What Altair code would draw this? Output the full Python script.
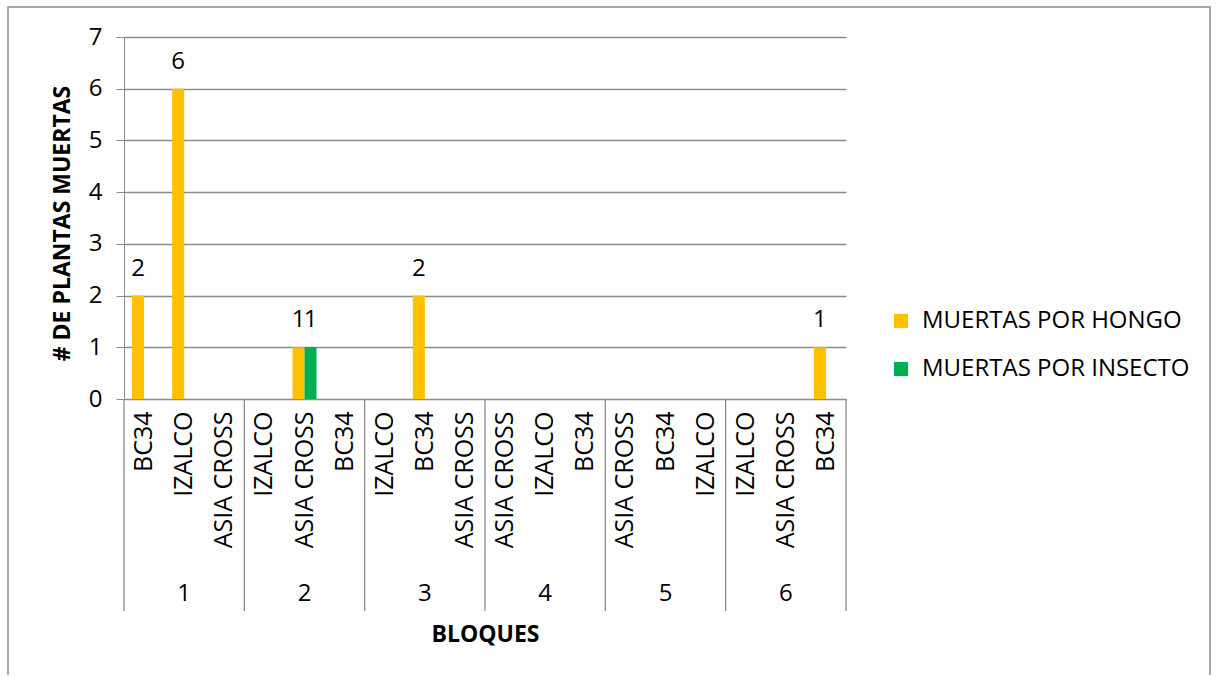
import altair as alt
import pandas as pd

# Six blocks, three varieties each (field order within every block)
blocks = ["1", "2", "3", "4", "5", "6"]
varieties = [
    ["BC34", "IZALCO", "ASIA CROSS"],
    ["IZALCO", "ASIA CROSS", "BC34"],
    ["IZALCO", "BC34", "ASIA CROSS"],
    ["ASIA CROSS", "IZALCO", "BC34"],
    ["ASIA CROSS", "BC34", "IZALCO"],
    ["IZALCO", "ASIA CROSS", "BC34"],
]
series = ["MUERTAS POR HONGO", "MUERTAS POR INSECTO"]
hongo = [2, 6, 0, 0, 1, 0, 0, 2, 0, 0, 0, 0, 0, 0, 0, 0, 0, 1]
insecto = [0, 0, 0, 0, 1, 0, 0, 0, 0, 0, 0, 0, 0, 0, 0, 0, 0, 0]
colors = ["#FFC000", "#00B050"]

keys = [f"{b}|{v}" for b, vs in zip(blocks, varieties) for v in vs]

rows = []
for i, k in enumerate(keys):
    rows.append({"cat": k, "serie": series[0], "valor": hongo[i]})
    rows.append({"cat": k, "serie": series[1], "valor": insecto[i]})
df = pd.DataFrame(rows)

starts = pd.DataFrame({"cat": [keys[3 * i] for i in range(len(blocks))]})
ends = pd.DataFrame({"cat": [keys[-1]]})
mids = pd.DataFrame({"cat": [keys[3 * i + 1] for i in range(len(blocks))], "bloque": blocks})

W, H = 722, 362
FONT = "Open Sans"
GRID = "#8c8c8c"

x_scale = alt.Scale(domain=keys, paddingInner=0, paddingOuter=0)
x_axis = alt.Axis(
    labelAngle=-90,
    labelExpr="split(datum.value, '|')[1]",
    labelFontSize=25,
    labelPadding=12,
    labelColor="#000",
    ticks=False,
    domainColor=GRID,
    title="BLOQUES",
    titleFontSize=23,
    titleFontWeight="bold",
    titleY=235,
    titleBaseline="middle",
    titleColor="#000",
)
y_scale = alt.Scale(domain=[0, 7], nice=False)
y_axis = alt.Axis(
    values=list(range(8)),
    format="d",
    grid=True,
    gridColor=GRID,
    gridWidth=1.3,
    domainColor=GRID,
    tickColor=GRID,
    tickSize=8,
    labelFontSize=24,
    labelPadding=14,
    labelColor="#000",
    title="# DE PLANTAS MUERTAS",
    titleFontSize=23,
    titleFontWeight="bold",
    titleColor="#000",
    titleX=-62,
    titleY=186,
    titleAngle=-90,
    titleAlign="center",
    titleBaseline="middle",
)

off_scale = alt.Scale(domain=series, paddingInner=0, paddingOuter=0.67)

bars = alt.Chart(df).mark_bar().encode(
    x=alt.X("cat:N", scale=x_scale, axis=x_axis, sort=keys),
    xOffset=alt.XOffset("serie:N", scale=off_scale),
    y=alt.Y("valor:Q", scale=y_scale, axis=y_axis),
    color=alt.Color(
        "serie:N",
        scale=alt.Scale(domain=series, range=colors),
        legend=alt.Legend(
            title=None,
            orient="none",
            legendX=765,
            legendY=272,
            symbolType="square",
            symbolSize=200,
            symbolStrokeWidth=0,
            labelFontSize=24,
            labelFont=FONT,
            labelColor="#000",
            labelOffset=9,
            labelLimit=0,
            rowPadding=24,
        ),
    ),
)

labels = alt.Chart(df).transform_filter("datum.valor > 0").mark_text(
    fontSize=24, font=FONT, baseline="middle", dy=-27, color="#000"
).encode(
    x=alt.X("cat:N", scale=x_scale, sort=keys),
    xOffset=alt.XOffset("serie:N", scale=off_scale),
    y=alt.Y("valor:Q", scale=y_scale),
    text="valor:Q",
)

sep_start = alt.Chart(starts).mark_rule(color=GRID, strokeWidth=1.3).encode(
    x=alt.X("cat:N", scale=x_scale, sort=keys, bandPosition=0),
    y=alt.value(H),
    y2=alt.value(H + 212),
)
sep_end = alt.Chart(ends).mark_rule(color=GRID, strokeWidth=1.3).encode(
    x=alt.X("cat:N", scale=x_scale, sort=keys, bandPosition=1),
    y=alt.value(H),
    y2=alt.value(H + 212),
)

block_text = alt.Chart(mids).mark_text(
    fontSize=24, font=FONT, baseline="middle", color="#000"
).encode(
    x=alt.X("cat:N", scale=x_scale, sort=keys),
    y=alt.value(H + 195),
    text="bloque:N",
)

frame = alt.Chart(starts.head(1)).mark_rect(
    fill=None, stroke="#8c8c8c", strokeWidth=1.5
).encode(
    x=alt.value(-116), x2=alt.value(1086), y=alt.value(-30), y2=alt.value(700)
)

chart = alt.layer(
    frame, bars, labels, sep_start, sep_end, block_text
).properties(
    width=W,
    height=H,
    autosize=alt.AutoSizeParams(type="none"),
    padding={"left": 124, "top": 37, "right": 369, "bottom": 276},
    background="#ffffff",
).configure(
    font=FONT,
).configure_view(stroke=None)

chart.save("out.html", embed_options={"renderer": "svg", "actions": False})
